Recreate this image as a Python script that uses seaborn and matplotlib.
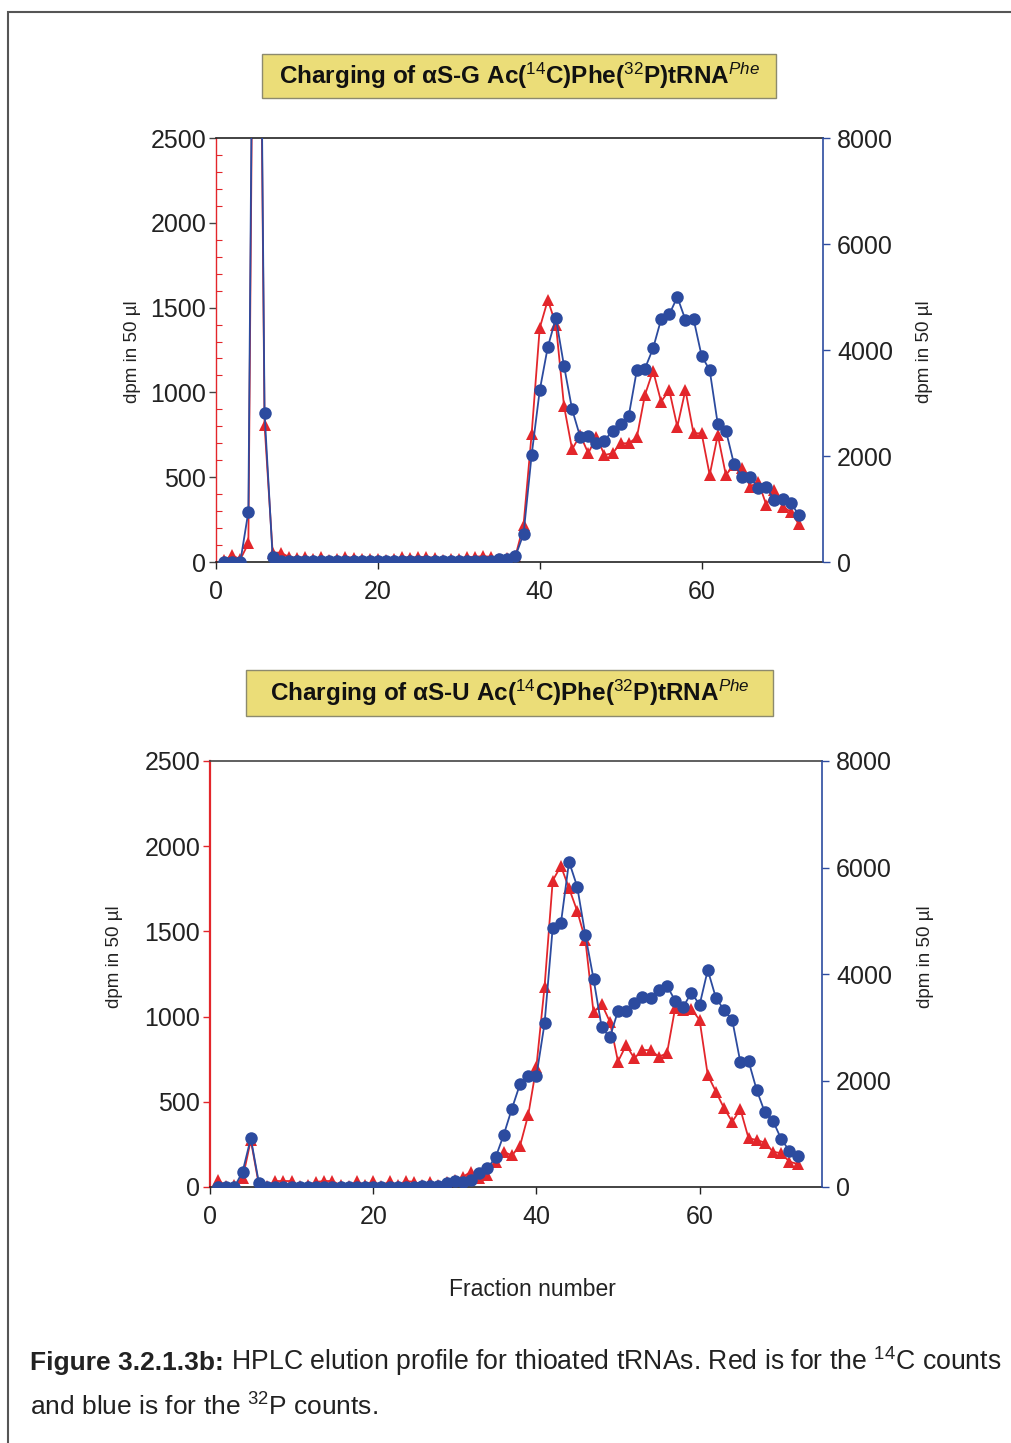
import numpy as np
import matplotlib
matplotlib.use("Agg")
import matplotlib.pyplot as plt
from matplotlib.patches import Rectangle
from matplotlib.ticker import MultipleLocator
import seaborn as sns

sns.set_theme(style="ticks")
plt.rcParams['font.family'] = ['Liberation Sans', 'DejaVu Sans']
plt.rcParams['mathtext.fontset'] = 'custom'
plt.rcParams['mathtext.rm'] = 'Liberation Sans'
plt.rcParams['mathtext.bf'] = 'Liberation Sans:bold'
plt.rcParams['mathtext.it'] = 'Liberation Sans:italic'

RED = '#e3262b'
BLUE = '#2c4b9f'

fractions = np.arange(1, 73)

# aS-G : 14C counts (left axis), 32P counts (right axis)
g_c14 = [10, 40, 15, 110, 6000, 808, 55, 55, 30, 25, 30, 15, 30, 10, 20, 30, 25, 20,
         15, 20, 10, 15, 30, 25, 30, 30, 25, 10, 15, 20, 30, 30, 35, 30, 20, 25,
         35, 218, 755, 1380, 1545, 1400, 920, 664, 749, 641, 739, 631, 641, 700, 700, 735,
         985, 1128, 945, 1014, 798, 1014, 759, 759, 513, 749, 513, 572, 552, 444,
         474, 336, 425, 326, 297, 224]
g_p32 = [0, 0, 0, 950, 20000, 2810, 90, 10, 10, 10, 10, 10, 10, 10, 10, 10, 10, 10,
         10, 10, 10, 10, 10, 10, 10, 10, 10, 10, 10, 10, 10, 10, 10, 10, 50, 50,
         110, 530, 2020, 3240, 4060, 4600, 3700, 2880, 2360, 2370, 2240, 2290, 2480, 2600, 2760, 3620,
         3650, 4030, 4580, 4670, 5000, 4570, 4590, 3890, 3620, 2600, 2480, 1850, 1610, 1610,
         1390, 1410, 1170, 1180, 1120, 890]

# aS-U : 14C counts (left axis), 32P counts (right axis)
u_c14 = [40, 5, 10, 51, 275, 10, 5, 35, 35, 35, 5, 10, 30, 35, 35, 10, 5, 35,
         10, 35, 5, 35, 10, 35, 30, 10, 30, 10, 30, 40, 60, 90, 51, 70, 149, 207,
         185, 243, 423, 706, 1176, 1798, 1884, 1753, 1620, 1450, 1025, 1074, 970, 736, 833, 755,
         804, 803, 765, 784, 1049, 1040, 1045, 980, 657, 559, 462, 383, 456, 286,
         276, 260, 207, 198, 149, 135]
u_p32 = [0, 0, 0, 290, 915, 70, 5, 5, 5, 5, 5, 5, 5, 5, 5, 5, 5, 5,
         5, 5, 5, 5, 5, 5, 5, 10, 10, 20, 70, 112, 96, 128, 256, 352, 557, 982,
         1472, 1936, 2086, 2086, 3072, 4870, 4950, 6110, 5640, 4730, 3910, 3000, 2810, 3305, 3310, 3450,
         3575, 3550, 3700, 3780, 3500, 3385, 3650, 3420, 4075, 3550, 3325, 3135, 2340, 2365,
         1820, 1400, 1240, 900, 680, 590]

x_ticks = [0, 20, 40, 60]
left_ticks = [0, 500, 1000, 1500, 2000, 2500]
right_ticks = [0, 2000, 4000, 6000, 8000]

W, H = 1011, 1443
fig = plt.figure(figsize=(W / 100, H / 100), dpi=100)


def panel(rect, c14, p32, minor, lab_left, lab_right, top_col):
    ax = fig.add_axes(rect)
    sns.lineplot(x=fractions, y=c14, ax=ax, color=RED, marker='^', markersize=8.5,
                 markeredgewidth=0, linewidth=1.3, estimator=None, sort=False)
    axr = ax.twinx()
    sns.lineplot(x=fractions, y=p32, ax=axr, color=BLUE, marker='o', markersize=9,
                 markeredgewidth=0, linewidth=1.3, estimator=None, sort=False)
    ax.set_xlim(0, 75)
    ax.set_ylim(0, 2500)
    axr.set_ylim(0, 8000)
    ax.set_xticks(x_ticks)
    ax.set_yticks(left_ticks)
    axr.set_yticks(right_ticks)
    ax.set_xlabel('')
    for s in ['left', 'top', 'bottom']:
        axr.spines[s].set_visible(False)
    ax.spines['right'].set_visible(False)
    ax.spines['left'].set_color(RED)
    ax.spines['top'].set_color(top_col)
    ax.spines['bottom'].set_color('#222222')
    axr.spines['right'].set_color(BLUE)
    ax.spines['left'].set_linewidth(1.0 if minor else 1.6)
    ax.spines['top'].set_linewidth(1.2)
    ax.spines['bottom'].set_linewidth(1.2)
    axr.spines['right'].set_linewidth(1.2)
    ax.tick_params(axis='x', direction='out', length=5, width=1, colors='#222222',
                   labelsize=18, pad=8)
    ax.tick_params(axis='y', direction='out', length=5, width=1,
                   color='#444444' if minor else RED, labelcolor='#222222',
                   labelsize=18, pad=2)
    axr.tick_params(axis='y', direction='out', length=5, width=1, color=BLUE,
                    labelcolor='#222222', labelsize=18, pad=5)
    if minor:
        ax.yaxis.set_minor_locator(MultipleLocator(100))
        ax.tick_params(axis='y', which='minor', direction='in', length=4, width=0.8,
                       color=RED)
    ax.set_ylabel('dpm in 50 µl', fontsize=13.5, color='#222222')
    axr.set_ylabel('dpm in 50 µl', fontsize=13.5, color='#222222', rotation=90)
    ax.yaxis.set_label_coords(lab_left[0], lab_left[1])
    axr.yaxis.set_label_coords(lab_right[0], lab_right[1])
    return ax, axr


panel([216 / W, 1 - 562 / H, 607 / W, 424 / H], g_c14, g_p32, True,
      (-0.124, 0.495), (1.153, 0.495), '#222222')
panel([210 / W, 1 - 1187 / H, 612 / W, 426 / H], u_c14, u_p32, False,
      (-0.142, 0.54), (1.155, 0.54), '#444444')

# title boxes
titles = [
    ((262, 54, 514, 44), 'Charging of αS-G Ac($^{14}$C)Phe($^{32}$P)tRNA$^{Phe}$'),
    ((246, 670, 527, 46), 'Charging of αS-U Ac($^{14}$C)Phe($^{32}$P)tRNA$^{Phe}$'),
]
for (bx, by, bw, bh), txt in titles:
    fig.patches.append(Rectangle((bx / W, 1 - (by + bh) / H), bw / W, bh / H,
                                 transform=fig.transFigure, facecolor='#ebdd78',
                                 edgecolor='#8c8a6e', linewidth=1.0))
    fig.text((bx + bw / 2) / W, 1 - (by + bh / 2) / H, txt, ha='center', va='center',
             fontsize=17.5, fontweight='bold', color='#111111')

fig.text(532 / W, 1 - 1290 / H, 'Fraction number', ha='center', va='center',
         fontsize=16.5, color='#222222')

# caption: bold lead-in, then the rest on the same baseline
cap = fig.text(30 / W, 1 - 1370 / H, 'Figure 3.2.1.3b:', ha='left', va='baseline',
               fontsize=19, fontweight='bold', color='#222222')
fig.canvas.draw()
x_end = cap.get_window_extent().x1
fig.text(x_end / W, 1 - 1370 / H,
         ' HPLC elution profile for thioated tRNAs. Red is for the $^{14}$C counts',
         ha='left', va='baseline', fontsize=19.2, color='#222222')
fig.text(30 / W, 1 - 1416 / H, r'and blue is for the $^{32}$P counts.',
         ha='left', va='baseline', fontsize=19, color='#222222')

# page frame
fig.patches.append(Rectangle((8 / W, -0.05), 1.2, 1 - 12 / H + 0.05,
                             transform=fig.transFigure, fill=False,
                             edgecolor='#555555', linewidth=1.5))

fig.savefig('out.png', dpi=100)
